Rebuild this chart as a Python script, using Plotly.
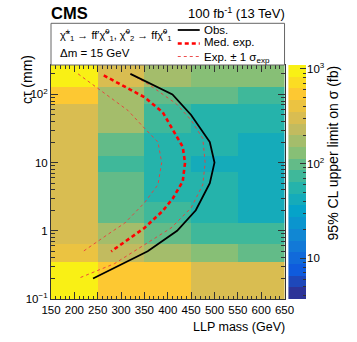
import numpy as np
import plotly.graph_objects as go

# LLP mass bin edges (GeV) and c*tau bin edges (mm)
mass_edges = [150, 250, 350, 450, 550, 650]
ctau_edges = [0.1, 0.345, 0.65, 1.32, 2.63, 7.2, 12.3, 27.4, 72, 128, 270]

# 95% CL upper limit on sigma (fb), rows from low to high c*tau
limit_fb = [
    [1050, 590, 490, 330, 272],
    [415, 223, 182, 141, 110],
    [330, 172, 98, 74, 66],
    [272, 110, 74, 52, 48],
    [272, 100, 52, 52, 42],
    [272, 66, 52, 42, 42],
    [272, 85, 52, 52, 42],
    [330, 150, 66, 54, 54],
    [590, 188, 98, 98, 66],
    [830, 330, 182, 141, 141],
]

# exclusion contours (mass GeV, c*tau mm)
obs_mass = [320, 410, 450, 490, 500, 490, 460, 420, 357, 240]
obs_ctau = [200, 100, 50, 20, 10, 5, 2, 1, 0.5, 0.2]

med_mass = [263, 350, 389, 414, 432, 437, 432, 411, 389, 350, 322, 279]
med_ctau = [190, 91, 55, 28, 17, 10, 5.3, 3.0, 1.95, 1.1, 0.8, 0.5]

minus_mass = [208, 247, 315, 350, 379, 387, 379, 350, 308, 272, 219]
minus_ctau = [200, 128, 58, 32, 20, 10, 4.75, 2.57, 1.3, 0.89, 0.5]

plus_mass = [320, 362, 418, 450, 475, 480, 475, 450, 407, 357, 286, 208]
plus_ctau = [200, 136, 73, 42, 22.6, 10, 4.75, 2.17, 1.1, 0.67, 0.33, 0.2]

# ROOT kBird palette
bird_r = [0.2082, 0.0592, 0.0780, 0.0232, 0.1802, 0.5301, 0.8186, 0.9956, 0.9764]
bird_g = [0.1664, 0.3599, 0.5041, 0.6419, 0.7178, 0.7492, 0.7328, 0.7862, 0.9832]
bird_b = [0.5293, 0.8684, 0.8385, 0.7914, 0.6425, 0.4662, 0.3499, 0.1968, 0.0539]
stops = np.linspace(0, 1, 9)


def bird(f):
    r = np.interp(f, stops, bird_r) * 255
    g = np.interp(f, stops, bird_g) * 255
    b = np.interp(f, stops, bird_b) * 255
    return "rgb(%d,%d,%d)" % (r, g, b)


n_bands = 20
colorscale = []
for i in range(n_bands):
    c = bird((i + 0.5) / n_bands)
    colorscale.append([i / n_bands, c])
    colorscale.append([(i + 1) / n_bands, c])

# colour axis range, log10(fb)
zmin, zmax = 0.57, 3.04
band_edges = np.linspace(zmin, zmax, n_bands + 1)
band_mid = (band_edges[:-1] + band_edges[1:]) / 2

font = "Liberation Sans, Arial, sans-serif"
dash_red = "rgba(235,60,60,0.9)"

# layout in page pixels: main frame 51..285 x 65..299, colour bar 288.7..306.5
L, T, W, H = 51, 65, 234, 234
WP = 255.5
cb_left = 288.7

fig = go.Figure()
fig.add_trace(go.Heatmap(
    x=mass_edges, y=ctau_edges, z=np.log10(limit_fb),
    zmin=zmin, zmax=zmax, colorscale=colorscale, showscale=False,
    hoverinfo="skip",
))

fig.add_trace(go.Scatter(x=minus_mass, y=minus_ctau, mode="lines",
                         line=dict(color=dash_red, width=1, dash="3px,3px")))
fig.add_trace(go.Scatter(x=plus_mass, y=plus_ctau, mode="lines",
                         line=dict(color=dash_red, width=1, dash="3px,3px")))
fig.add_trace(go.Scatter(x=med_mass, y=med_ctau, mode="lines",
                         line=dict(color="red", width=2.6, dash="4px,3px")))
fig.add_trace(go.Scatter(x=obs_mass, y=obs_ctau, mode="lines",
                         line=dict(color="black", width=1.8)))

# colour scale drawn as its own strip so it can carry major and minor ticks
fig.add_trace(go.Heatmap(
    x=[0, 1], y=(10 ** band_edges).tolist(), z=[[v] for v in band_mid],
    zmin=zmin, zmax=zmax, colorscale=colorscale, showscale=False,
    hoverinfo="skip", xaxis="x2", yaxis="y2",
))

tick_font = dict(family=font, size=11.5, color="black")
fig.update_layout(
    xaxis=dict(
        domain=[0, W / WP], anchor="y",
        range=[150, 650], tickvals=list(range(150, 651, 50)),
        ticks="inside", ticklen=7, tickcolor="#333", mirror="ticks",
        showline=True, linecolor="#333", linewidth=1, showgrid=False, zeroline=False,
        minor=dict(dtick=10, tick0=150, ticks="inside", ticklen=3.5, tickcolor="#333"),
        tickfont=tick_font,
    ),
    yaxis=dict(
        anchor="x", type="log", range=[-1, np.log10(270)],
        tickvals=[0.1, 1, 10, 100], ticktext=["10<sup>\u22121</sup>", "1", "10", "10<sup>2</sup>"],
        ticks="inside", ticklen=7, tickcolor="#333", mirror="ticks",
        showline=True, linecolor="#333", linewidth=1, showgrid=False, zeroline=False,
        minor=dict(tickvals=[v * 10 ** e for e in range(-1, 3) for v in range(2, 10) if v * 10 ** e < 270],
                   ticks="inside", ticklen=3.5, tickcolor="#333"),
        tickfont=tick_font,
    ),
    xaxis2=dict(
        domain=[(cb_left - L) / WP, 1], anchor="y2", range=[0, 1],
        showticklabels=False, ticks="", showgrid=False, zeroline=False, showline=False,
    ),
    yaxis2=dict(
        anchor="x2", side="right", type="log", range=[zmin, zmax],
        tickvals=[10, 100, 1000], ticktext=["10", "10<sup>2</sup>", "10<sup>3</sup>"],
        ticks="inside", ticklen=6, tickcolor="#333", showgrid=False, zeroline=False, showline=False,
        minor=dict(tickvals=[v * 10 ** e for e in range(0, 3) for v in range(2, 10) if v * 10 ** e >= 4],
                   ticks="inside", ticklen=3, tickcolor="#333"),
        tickfont=tick_font,
    ),
)


def px(xp):
    return (xp - L) / WP


def py(yp):
    return (T + H - yp) / H


annotations = [
    dict(x=px(49.5), y=py(13), text="<b>CMS</b>", xanchor="left", font=dict(size=16.5)),
    dict(x=px(286), y=py(13.5), text="100 fb<sup>-1</sup> (13 TeV)", xanchor="right", font=dict(size=13)),
    dict(x=px(59), y=py(35),
         text="\u03c7\u0303<sup>\u00b1</sup><sub>1</sub> \u2192 ff\u2032\u03c7\u0303<sup>0</sup><sub>1</sub>, "
              "\u03c7\u0303<sup>0</sup><sub>2</sub> \u2192 ff\u03c7\u0303<sup>0</sup><sub>1</sub>",
         xanchor="left", font=dict(size=11)),
    dict(x=px(59), y=py(53), text="\u0394m = 15 GeV", xanchor="left", font=dict(size=11.5)),
    dict(x=px(203), y=py(29.5), text="Obs.", xanchor="left", font=dict(size=11.5)),
    dict(x=px(203), y=py(42.5), text="Med. exp.", xanchor="left", font=dict(size=11.5)),
    dict(x=px(203), y=py(58), text="Exp. \u00b1 1 \u03c3<sub>exp</sub>", xanchor="left", font=dict(size=11.5)),
    dict(x=px(286), y=py(327), text="LLP mass (GeV)", xanchor="right", font=dict(size=12.5)),
    dict(x=px(18), y=py(80), text="c\u03c4 (mm)", textangle=-90, font=dict(size=14)),
    dict(x=px(343), y=py(153), text="95% CL upper limit on \u03c3 (fb)", textangle=-90, font=dict(size=14)),
]
for a in annotations:
    a.update(xref="paper", yref="paper", showarrow=False, yanchor="middle", borderpad=0)
    a["font"].update(family=font, color="black")

shapes = [
    dict(type="rect", xref="paper", yref="paper", x0=0, x1=W / WP, y0=1, y1=py(23.3),
         line=dict(color="#666", width=1), fillcolor="white"),
    dict(type="line", xref="paper", yref="paper", x0=px(178), x1=px(200), y0=py(30), y1=py(30),
         line=dict(color="black", width=1.8)),
    dict(type="line", xref="paper", yref="paper", x0=px(178), x1=px(200), y0=py(43.5), y1=py(43.5),
         line=dict(color="red", width=2.6, dash="4px,3px")),
    dict(type="line", xref="paper", yref="paper", x0=px(178), x1=px(200), y0=py(56.5), y1=py(56.5),
         line=dict(color=dash_red, width=1, dash="3px,3px")),
]

fig.update_layout(
    width=357, height=342,
    margin=dict(l=L, r=357 - L - WP, t=T, b=342 - T - H),
    paper_bgcolor="white", plot_bgcolor="white",
    showlegend=False,
    annotations=annotations, shapes=shapes,
    font=dict(family=font, color="black"),
)

# the page body has a default 8px margin; drop it so the figure sits at the window corner
fig.write_html("out.html", config={"displayModeBar": False},
               post_script="document.body.style.margin='0px';")
